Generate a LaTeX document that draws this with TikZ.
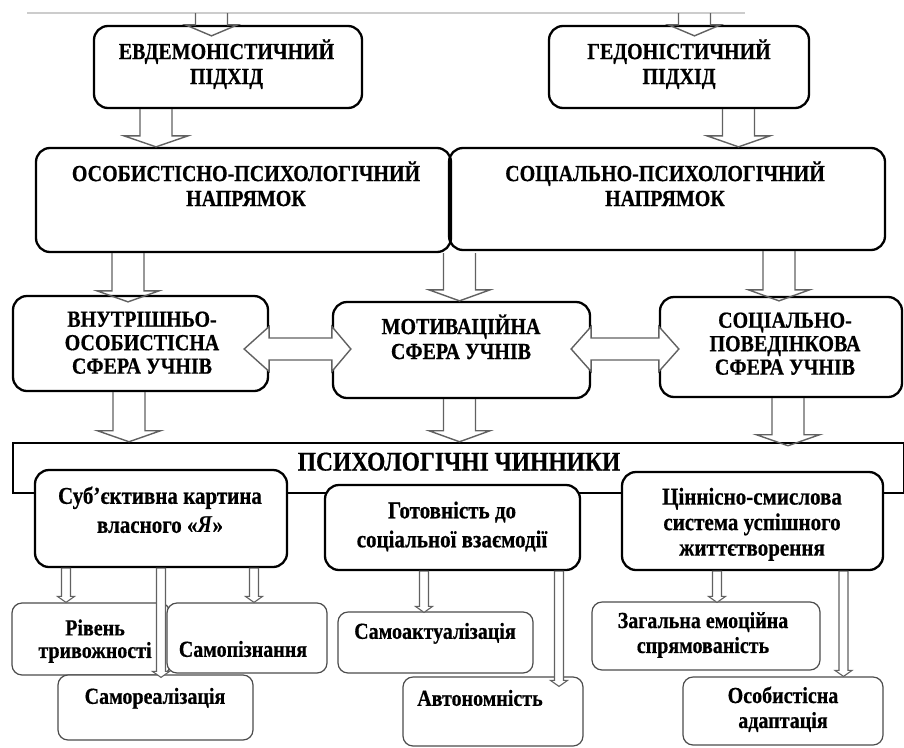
\documentclass[tikz,border=0pt]{standalone}
\usepackage{graphicx}
\usepackage{fontspec}
\setmainfont{Liberation Serif}[BoldFeatures={FakeBold=0.6}]
\usetikzlibrary{calc}
\newcommand\bx[6]{\node[#6, minimum width={(#4-#2)*1pt}, minimum height={(#5-#3)*1pt}] (#1) at ({(#2+#4)/2},{(#3+#5)/2}) {};}
\newcommand\vs[1]{\scalebox{1}[1.15]{\begin{tabular}{@{}c@{}}#1\end{tabular}}}
% big block arrow down: x, source point, target point, tip offset, head half width
\newcommand\bigdown[5]{\draw[bigarr] let \p1=(#2), \p2=(#3) in
 ({#1pt-16pt},\y1) -- ({#1pt-16pt},{\y2-#4pt+11pt}) -- ({#1pt-#5pt},{\y2-#4pt+11pt}) -- ({#1pt},{\y2-#4pt})
 -- ({#1pt+#5pt},{\y2-#4pt+11pt}) -- ({#1pt+16pt},{\y2-#4pt+11pt}) -- ({#1pt+16pt},\y1);}
% double horizontal block arrow: y, left point, right point, left inset, right inset
\newcommand\dbl[5]{\draw[bigarr, fill=white] let \p1=(#2), \p2=(#3) in
 ({\x1-#4pt},{-#1pt}) -- (\x1,{-#1pt+22.5pt}) -- (\x1,{-#1pt+11pt}) -- (\x2,{-#1pt+11pt}) -- (\x2,{-#1pt+22.5pt})
 -- ({\x2+#5pt},{-#1pt}) -- (\x2,{-#1pt-22.5pt}) -- (\x2,{-#1pt-11pt}) -- (\x1,{-#1pt-11pt}) -- (\x1,{-#1pt-22.5pt}) -- cycle;}
% small block arrow down: x, source point, target point, tip offset
\newcommand\smdown[4]{\draw[smarr] let \p1=(#2), \p2=(#3) in
 ({#1pt-4.5pt},\y1) -- ({#1pt-4.5pt},{\y2-#4pt+6pt}) -- ({#1pt-8.5pt},{\y2-#4pt+6pt}) -- ({#1pt},{\y2-#4pt})
 -- ({#1pt+8.5pt},{\y2-#4pt+6pt}) -- ({#1pt+4.5pt},{\y2-#4pt+6pt}) -- ({#1pt+4.5pt},\y1) -- cycle;}
\begin{document}
\begin{tikzpicture}[x=1pt,y=-1pt,
  mainbox/.style={draw=black, line width=2.3pt, rounded corners=14pt, fill=white, inner sep=0pt},
  headbox/.style={draw=black, line width=2.5pt, fill=white, inner sep=0pt},
  leafbox/.style={draw=black!70, line width=1.2pt, rounded corners=10pt, fill=white, inner sep=0pt},
  bigarr/.style={draw=black!62, line width=1.4pt},
  smarr/.style={draw=black!62, line width=1.1pt, fill=white},
  capt/.style={align=center, inner sep=0pt, font=\bfseries\fontsize{20}{21.7}\selectfont},
  capt3/.style={align=center, inner sep=0pt, font=\bfseries\fontsize{20}{20.4}\selectfont},
  titl/.style={align=center, inner sep=0pt, font=\bfseries\fontsize{23.5}{24}\selectfont},
  midt/.style={align=center, inner sep=0pt, font=\bfseries\fontsize{21}{25.2}\selectfont},
  leaft/.style={align=center, inner sep=0pt, font=\bfseries\fontsize{20}{20.9}\selectfont}]
\useasboundingbox (0,0) rectangle (904,747);
\draw[black!20, line width=1.5pt] (27,13) -- (745,13);
\coordinate (c1) at (211.5,13);
\coordinate (c2) at (694.5,13);
% level 1
\bx{b1}{94}{26}{362}{108}{mainbox}
\bx{b2}{549}{26}{809}{108}{mainbox}
% level 2
\bx{b3}{36}{148}{451}{252}{mainbox}
\bx{b4}{449}{148}{885}{250}{mainbox, fill=none}
% level 3
\bx{b5}{13}{296}{268}{391}{mainbox}
\bx{b6}{333}{302}{590}{398}{mainbox}
\bx{b7}{660}{297}{902}{397}{mainbox}
% header
\bx{b8}{13}{443}{904}{493}{headbox}
% level 4
\bx{b9}{35}{470}{287}{567}{mainbox}
\bx{b10}{325}{485}{580}{570}{mainbox}
\bx{b11}{622}{472}{883}{570}{mainbox}
% leaves
\bx{b12}{12}{603}{170}{675}{leafbox}
\bx{b13}{167}{603}{327}{673}{leafbox}
\bx{b14}{58}{675}{253}{740}{leafbox}
\bx{b15}{338}{612}{533}{673}{leafbox}
\bx{b16}{403}{677}{583}{746}{leafbox}
\bx{b17}{592}{602}{820}{670}{leafbox}
\bx{b18}{683}{677}{883}{745}{leafbox}
% texts
\node[capt] (t1) at (226.5,65.5) {\vs{ЕВДЕМОНІСТИЧНИЙ\\ПІДХІД}};
\node[capt] (t2) at (679,65.5) {\vs{ГЕДОНІСТИЧНИЙ\\ПІДХІД}};
\node[capt] (t3) at (246,187.5) {\vs{ОСОБИСТІСНО-ПСИХОЛОГІЧНИЙ\\НАПРЯМОК}};
\node[capt] (t4) at (665,187.5) {\vs{СОЦІАЛЬНО-ПСИХОЛОГІЧНИЙ\\НАПРЯМОК}};
\node[capt3] (t5) at (142,345.5) {\vs{ВНУТРІШНЬО-\\ОСОБИСТІСНА\\СФЕРА УЧНІВ}};
\node[capt] (t6) at (461,340.5) {\vs{МОТИВАЦІЙНА\\СФЕРА УЧНІВ}};
\node[capt3] (t7) at (785,346.5) {\vs{СОЦІАЛЬНО-\\ПОВЕДІНКОВА\\СФЕРА УЧНІВ}};
\node[titl] (t8) at (459,465) {\vs{ПСИХОЛОГІЧНІ ЧИННИКИ}};
\node[midt] (t9) at (160,512.5) {\vs{Суб'єктивна картина\\власного «\textit{Я}»}};
\node[midt] (t10) at (452,527) {\vs{Готовність до\\соціальної взаємодії}};
\node[midt, font=\bfseries\fontsize{21}{22.2}\selectfont] (t11) at (752,525) {\vs{Ціннісно-смислова\\система успішного\\життєтворення}};
\node[leaft, font=\bfseries\fontsize{20}{19.1}\selectfont] (t12) at (95,642) {\vs{Рівень\\тривожності}};
\node[leaft] (t13) at (243,652) {\vs{Самопізнання}};
\node[leaft] (t14) at (155,699) {\vs{Самореалізація}};
\node[leaft] (t15) at (435,634) {\vs{Самоактуалізація}};
\node[leaft] (t16) at (480,701) {\vs{Автономність}};
\node[leaft, font=\bfseries\fontsize{20}{21.7}\selectfont] (t17) at (703,635.5) {\vs{Загальна емоційна\\спрямованість}};
\node[leaft, font=\bfseries\fontsize{20}{21.7}\selectfont] (t18) at (783,710.5) {\vs{Особистісна\\адаптація}};
% big arrows
\bigdown{211.5}{c1}{b1.north}{11}{26}
\bigdown{694.5}{c2}{b2.north}{11}{26}
\bigdown{156}{b1.south}{b3.north}{0}{32}
\bigdown{738.5}{b2.south}{b4.north}{0}{31.5}
\bigdown{128}{b3.south}{b5.north}{7}{31}
\bigdown{459.5}{b3.south}{b6.north}{0}{30.5}
\bigdown{779}{b4.south}{b7.north}{5}{30.5}
\bigdown{129}{b5.south}{b8.north}{0}{31.5}
\bigdown{459.5}{b6.south}{b8.north}{0}{30.5}
\bigdown{788}{b7.south}{b8.north}{4}{31.5}
% double arrows
\dbl{349}{b5.east}{b6.west}{25}{19}
\dbl{349}{b6.east}{b7.west}{20}{20}
% small arrows
\smdown{66}{b9.south}{b12.north}{0}
\smdown{161}{b9.south}{b14.north}{3}
\smdown{254}{b9.south}{b13.north}{0}
\smdown{424}{b10.south}{b15.north}{1}
\smdown{559}{b10.south}{b16.north}{10}
\smdown{717}{b11.south}{b17.north}{1}
\smdown{843.5}{b11.south}{b18.north}{0}
\end{tikzpicture}
\end{document}
